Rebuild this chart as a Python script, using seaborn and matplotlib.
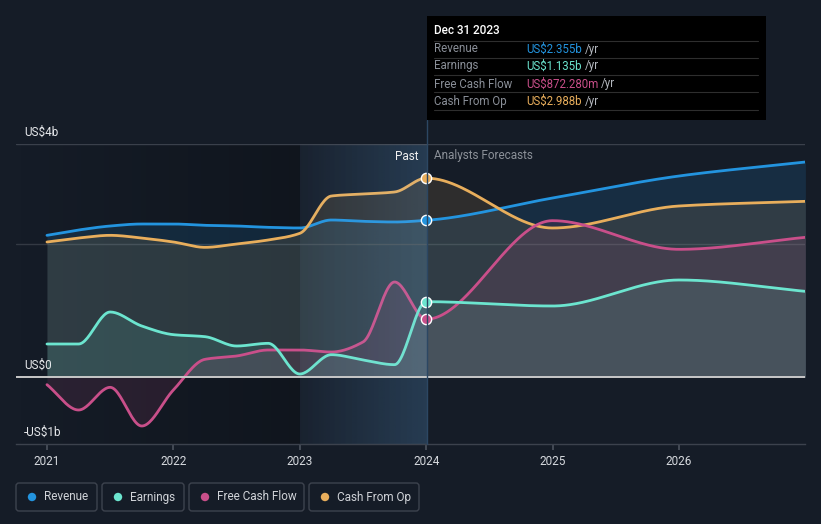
import numpy as np
import pandas as pd
import matplotlib
matplotlib.use("Agg")
import matplotlib.pyplot as plt
import seaborn as sns
from matplotlib.patches import FancyBboxPatch, Rectangle, Circle

# ---------------- data (US$ billions) ----------------
years_past = [2021.0, 2021.25, 2021.5, 2021.75, 2022.0, 2022.25, 2022.5, 2022.75,
              2023.0, 2023.25, 2023.5, 2023.75, 2024.0]
years_fc = [2025.0, 2026.0, 2027.0]

revenue_past = [2.13, 2.21, 2.27, 2.30, 2.30, 2.28, 2.27, 2.25, 2.24, 2.36, 2.34, 2.33, 2.355]
revenue_fc = [2.69, 3.02, 3.23]
earnings_past = [0.50, 0.50, 0.98, 0.77, 0.64, 0.61, 0.47, 0.51, 0.05, 0.34, 0.26, 0.19, 1.135]
earnings_fc = [1.07, 1.46, 1.29]
fcf_past = [-0.11, -0.49, -0.15, -0.73, -0.19, 0.27, 0.32, 0.41, 0.41, 0.38, 0.53, 1.43, 0.872]
fcf_fc = [2.35, 1.92, 2.10]
cfo_past = [2.03, 2.09, 2.13, 2.09, 2.03, 1.95, 2.00, 2.06, 2.16, 2.72, 2.75, 2.78, 2.988]
cfo_fc = [2.24, 2.57, 2.64]

series_names = ["Revenue", "Earnings", "Free Cash Flow", "Cash From Op"]
series_colors = ["#2394df", "#6ce5cf", "#c94f8a", "#e8ae5c"]
fill_alpha = [0.15, 0.12, 0.12, 0.12]
tooltip_values = ["US$2.355b", "US$1.135b", "US$872.280m", "US$2.988b"]
tooltip_date = "Dec 31 2023"
xtick_years = [2021, 2022, 2023, 2024, 2025, 2026]
ylabels = ["US$4b", "US$0", "-US$1b"]

BG = "#151c27"
W, H = 821, 524


def monotone(x, y, n=600):
    """Monotone cubic (Fritsch-Carlson) rendering of a line through the points."""
    x = np.asarray(x, float)
    y = np.asarray(y, float)
    h = np.diff(x)
    d = np.diff(y) / h
    m = np.zeros_like(y)
    m[0], m[-1] = d[0], d[-1]
    for i in range(1, len(y) - 1):
        if d[i - 1] * d[i] <= 0:
            m[i] = 0.0
        else:
            w1 = 2 * h[i] + h[i - 1]
            w2 = h[i] + 2 * h[i - 1]
            m[i] = (w1 + w2) / (w1 / d[i - 1] + w2 / d[i])
    xs = np.linspace(x[0], x[-1], n)
    idx = np.clip(np.searchsorted(x, xs, side="right") - 1, 0, len(x) - 2)
    t = (xs - x[idx]) / h[idx]
    h00 = 2 * t**3 - 3 * t**2 + 1
    h10 = t**3 - 2 * t**2 + t
    h01 = -2 * t**3 + 3 * t**2
    h11 = t**3 - t**2
    ys = h00 * y[idx] + h10 * h[idx] * m[idx] + h01 * y[idx + 1] + h11 * h[idx] * m[idx + 1]
    return xs, ys


sns.set_theme(style="dark")
plt.rcParams["font.family"] = ["Roboto", "DejaVu Sans"]

fig = plt.figure(figsize=(W / 100, H / 100), dpi=100, facecolor=BG)
L, R, T, B = 16, 805, 144, 444
ax = fig.add_axes([L / W, 1 - B / H, (R - L) / W, (B - T) / H])
ax.set_facecolor("none")
xmin, xmax = 2020.755, 2026.997
ax.set_xlim(xmin, xmax)
ax.set_ylim(-1.0, 3.5)

# background gradients
grad = np.zeros((2, 256, 4))
grad[..., 3] = np.linspace(0, 0.24, 256)
ax.imshow(grad, extent=[xmin, 2023.0, -1.0, 3.5], aspect="auto", zorder=0, interpolation="bilinear")
band = np.zeros((2, 256, 4))
band[..., 0], band[..., 1], band[..., 2] = 22 / 255, 70 / 255, 115 / 255
band[..., 3] = np.linspace(0.05, 0.32, 256)
ax.imshow(band, extent=[2023.0, 2024.0, -1.0, 3.5], aspect="auto", zorder=0.5, interpolation="bilinear")
# light veil over the past band (lines and fills appear paler there)
veil = np.zeros((2, 256, 4))
veil[..., 0], veil[..., 1], veil[..., 2] = 170 / 255, 200 / 255, 225 / 255
veil[..., 3] = np.linspace(0.03, 0.12, 256)
ax.imshow(veil, extent=[2023.0, 2024.0, -1.0, 3.5], aspect="auto", zorder=6, interpolation="bilinear")
ax.set_xlim(xmin, xmax)
ax.set_ylim(-1.0, 3.5)

# gridlines
ax.axhline(3.5, color="#3a404b", lw=1.0, zorder=1)
ax.axhline(2.0, color="#333943", lw=1.0, zorder=1)

all_years = years_past + years_fc
data = [revenue_past + revenue_fc, earnings_past + earnings_fc,
        fcf_past + fcf_fc, cfo_past + cfo_fc]
order = [0, 3, 2, 1]
for k in order:
    xs, ys = monotone(all_years, data[k])
    ax.fill_between(xs, 0, ys, color=series_colors[k], alpha=fill_alpha[k], lw=0, zorder=2)
for k in order:
    xs, ys = monotone(all_years, data[k])
    df = pd.DataFrame({"x": xs, "y": ys})
    sns.lineplot(data=df, x="x", y="y", ax=ax, color=series_colors[k], lw=2.0,
                 estimator=None, sort=False, zorder=5)
# markers at Dec 31 2023
for k in order:
    ax.scatter([years_past[-1]], [data[k][len(years_past) - 1]], s=55, color=series_colors[k],
               edgecolor="white", linewidth=1.0, zorder=8)

ax.axhline(0, color="#c8c8c8", lw=1.4, zorder=7)

ax.set_xticks(xtick_years)
ax.set_xticklabels([str(y) for y in xtick_years], color="#d6d9de", fontsize=8.5)
ax.set_yticks([])
ax.set_xlabel("")
ax.set_ylabel("")
ax.tick_params(axis="x", length=4, color="#4a505b", pad=4, bottom=True)
for s in ["top", "right", "left"]:
    ax.spines[s].set_visible(False)
ax.spines["bottom"].set_color("#3c424d")
ax.spines["bottom"].set_linewidth(1.0)
ax.grid(False)

# ---------------- overlay in pixel coords ----------------
ov = fig.add_axes([0, 0, 1, 1], zorder=10)
ov.set_xlim(0, W)
ov.set_ylim(H, 0)
ov.axis("off")
ov.set_facecolor("none")

# vertical marker line
ov.plot([427, 427], [120, 444], color="#2c4763", lw=1.0, zorder=1)

# y labels
ov.text(24, 132, ylabels[0], color="#e6e8eb", fontsize=8.5, va="center", ha="left")
ov.text(24, 365, ylabels[1], color="#e6e8eb", fontsize=8.5, va="center", ha="left")
ov.text(24, 432, ylabels[2], color="#e6e8eb", fontsize=8.5, va="center", ha="left")

# Past / Analysts Forecasts
ov.text(418, 156, "Past", color="#f0f0f0", fontsize=8.5, va="center", ha="right")
ov.text(434, 156, "Analysts Forecasts", color="#8c9199", fontsize=8.5, va="center", ha="left")

# tooltip
ov.add_patch(Rectangle((427, 16), 339, 104, facecolor="#000000", edgecolor="none", zorder=2))
ov.text(434, 31, tooltip_date, color="#ffffff", fontsize=8.5, va="center", ha="left", zorder=3,
        fontweight="medium")
row_y = [49, 66, 84, 101]
for yy in [41, 58, 75, 92, 110]:
    ov.plot([434, 758], [yy, yy], color="#2e2e2e", lw=0.8, zorder=3)
fig.canvas.draw()
for i in range(4):
    ov.text(434, row_y[i], series_names[i], color="#8a8f98", fontsize=8.3, va="center", ha="left", zorder=3)
    t = ov.text(526, row_y[i], tooltip_values[i], color=series_colors[i], fontsize=8.3,
                va="center", ha="left", zorder=3)
    fig.canvas.draw()
    bb = t.get_window_extent()
    ov.text(bb.x1 + 3, row_y[i], "/yr", color="#b4b8bf", fontsize=8.3, va="center", ha="left", zorder=3)

# legend
boxes = [(16, 97), (102, 184), (189, 304), (309, 419)]
for i, (x0, x1) in enumerate(boxes):
    ov.add_patch(FancyBboxPatch((x0, 483), x1 - x0, 28, boxstyle="round,pad=0,rounding_size=3",
                                facecolor="none", edgecolor="#3d434e", lw=1.0))
    ov.add_patch(Circle((x0 + 16, 497), 4.2, facecolor=series_colors[i], edgecolor="none"))
    ov.text(x0 + 28, 497, series_names[i], color="#d0d3d8", fontsize=8.5, va="center", ha="left")

fig.savefig("out.png", dpi=100, facecolor=BG)
